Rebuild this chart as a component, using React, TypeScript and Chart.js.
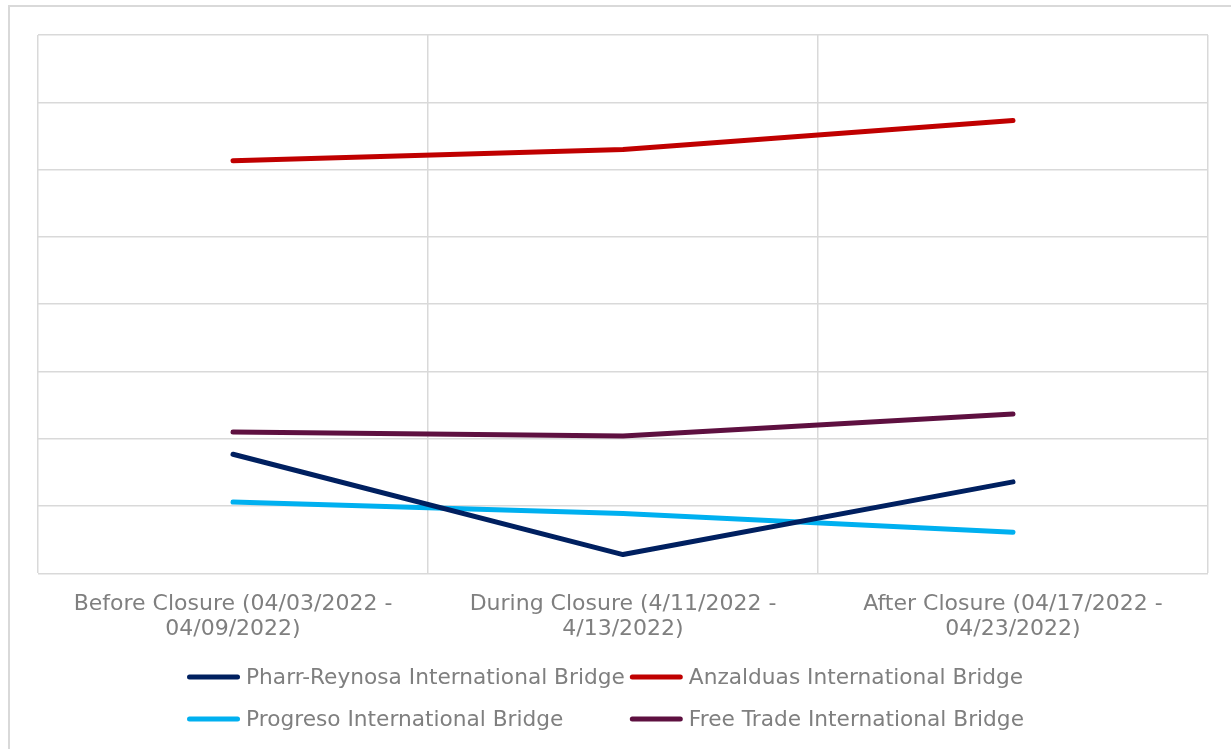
import React, { useEffect, useRef } from "react";
import { Chart, registerables } from "chart.js";

Chart.register(...registerables);

const categories: string[][] = [
  ["Before Closure (04/03/2022 -", "04/09/2022)"],
  ["During Closure (4/11/2022 -", "4/13/2022)"],
  ["After Closure (04/17/2022 -", "04/23/2022)"],
];

const pharrReynosa = [1.77, 0.28, 1.36];
const anzalduas = [6.13, 6.3, 6.73];
const progreso = [1.06, 0.89, 0.61];
const freeTrade = [2.1, 2.04, 2.37];

const seriesNames = [
  "Pharr-Reynosa International Bridge",
  "Anzalduas International Bridge",
  "Progreso International Bridge",
  "Free Trade International Bridge",
];
const seriesColors = ["#002060", "#C00000", "#00B0F0", "#5E1040"];

const FONT = "DejaVu Sans";
const TEXT_COLOR = "#7f7f7f";
const GRID_COLOR = "#d9d9d9";

const gridLegend = {
  id: "gridLegend",
  afterDraw(chart: any) {
    const ctx = chart.ctx;
    const ds = chart.data.datasets;
    const fontSize = 21.7;
    ctx.save();
    ctx.font = `${fontSize}px "${FONT}"`;
    ctx.textBaseline = "middle";
    const lineLen = 53;
    const textGap = 6;
    const colGap = 5;
    const cols = 2;
    const colWidths: number[] = [0, 0];
    ds.forEach((d: any, i: number) => {
      const w = lineLen + textGap + ctx.measureText(d.label).width;
      const c = i % cols;
      colWidths[c] = Math.max(colWidths[c], w);
    });
    const total = colWidths[0] + colGap + colWidths[1];
    const startX = (chart.width - total) / 2 - 10;
    const rowY = [677, 719];
    ds.forEach((d: any, i: number) => {
      const c = i % cols;
      const r = Math.floor(i / cols);
      const x = startX + (c === 0 ? 0 : colWidths[0] + colGap);
      const y = rowY[r];
      ctx.strokeStyle = d.borderColor;
      ctx.lineWidth = 5;
      ctx.lineCap = "round";
      ctx.beginPath();
      ctx.moveTo(x + 2.5, y);
      ctx.lineTo(x + lineLen - 2.5, y);
      ctx.stroke();
      ctx.fillStyle = TEXT_COLOR;
      ctx.textAlign = "left";
      ctx.fillText(d.label, x + lineLen + textGap, y + 1);
    });
    ctx.restore();
  },
};

export default function App() {
  const canvasRef = useRef<HTMLCanvasElement | null>(null);

  useEffect(() => {
    if (!canvasRef.current) return;
    const values = [pharrReynosa, anzalduas, progreso, freeTrade];
    const chart = new Chart(canvasRef.current, {
      type: "line",
      data: {
        labels: categories,
        datasets: values.map((v, i) => ({
          label: seriesNames[i],
          data: v,
          borderColor: seriesColors[i],
          backgroundColor: seriesColors[i],
          borderWidth: 5,
          borderCapStyle: "round",
          borderJoinStyle: "round",
          pointRadius: 0,
          pointHoverRadius: 0,
          tension: 0,
          fill: false,
        })),
      },
      options: {
        animation: false,
        responsive: true,
        maintainAspectRatio: false,
        layout: {
          padding: { left: 38, right: 23, top: 35, bottom: 89 },
        },
        plugins: {
          legend: { display: false },
          tooltip: { enabled: false },
        },
        scales: {
          x: {
            offset: true,
            grid: {
              offset: true,
              color: GRID_COLOR,
              lineWidth: 1.5,
              drawTicks: false,
            },
            border: { display: false },
            ticks: {
              color: TEXT_COLOR,
              font: { family: FONT, size: 22, lineHeight: 1.15 },
              padding: 18,
              maxRotation: 0,
              autoSkip: false,
            },
          },
          y: {
            min: 0,
            max: 8,
            grid: {
              color: GRID_COLOR,
              lineWidth: 1.5,
              drawTicks: false,
            },
            border: { display: false },
            ticks: { display: false, stepSize: 1 },
          },
        },
      },
      plugins: [gridLegend],
    });
    return () => chart.destroy();
  }, []);

  return (
    <>
      <div
        style={{
          position: "fixed",
          left: 8,
          top: 5,
          right: 0,
          bottom: 0,
          borderLeft: "2px solid #d9d9d9",
          borderTop: "2px solid #d9d9d9",
          boxSizing: "border-box",
        }}
      />
      <div
        style={{
          position: "fixed",
          left: 0,
          top: 0,
          width: 1231,
          height: 749,
        }}
      >
        <canvas ref={canvasRef} />
      </div>
    </>
  );
}
